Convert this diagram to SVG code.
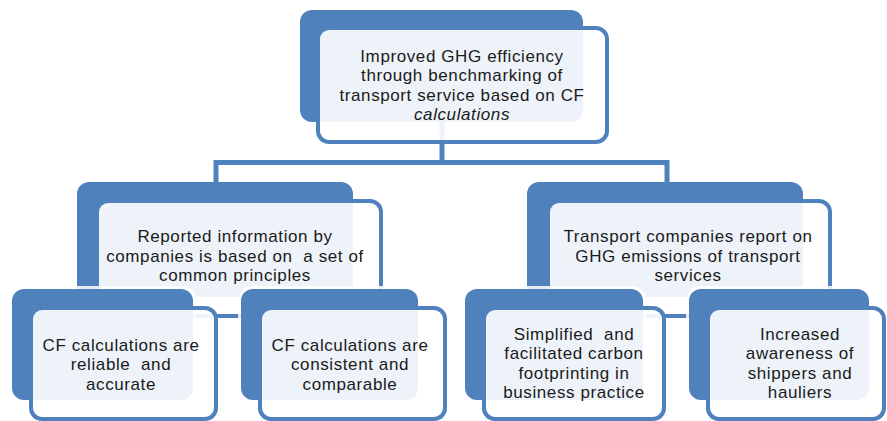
<svg xmlns="http://www.w3.org/2000/svg" width="887" height="421" viewBox="0 0 887 421">
<style>
.back{fill:#4f81bd}
.glow{fill:#ffffff;opacity:0.85}
.front{fill:#ffffff;fill-opacity:0.9;stroke:#4f81bd;stroke-width:4}
.conn{fill:none;stroke:#4f81bd;stroke-width:5}
text{font-family:"Liberation Sans",Arial,sans-serif;font-size:17px;letter-spacing:0.6px;fill:#1a1a1a;text-anchor:middle;white-space:pre}
</style>
<rect width="887" height="421" fill="#ffffff"/>
<g id="connectors">
<path class="conn" d="M442,122 V162.5"/>
<path class="conn" d="M216,182 V162.5 H667 V182"/>
</g>
<g id="top">
<rect class="back" x="300" y="10" width="283" height="112" rx="12"/>
<rect class="front" x="318" y="28" width="289" height="114" rx="11"/>
<text x="462" y="62">Improved GHG efficiency</text>
<text x="462" y="81.4">through benchmarking of</text>
<text x="462" y="100.8">transport service based on CF</text>
<text x="462" y="120.2" font-style="italic">calculations</text>
</g>
<g id="mid-left">
<rect class="back" x="77" y="182" width="276" height="115" rx="12"/>
<rect class="front" x="97" y="201" width="284" height="115" rx="11"/>
<text x="235" y="242">Reported information by</text>
<text x="235" y="261.5" xml:space="preserve">companies is based on  a set of</text>
<text x="235" y="281">common principles</text>
</g>
<g id="mid-right">
<rect class="back" x="527" y="182" width="276" height="115" rx="12"/>
<rect class="front" x="548" y="201" width="282" height="115" rx="11"/>
<text x="688" y="242">Transport companies report on</text>
<text x="688" y="261.5">GHG emissions of transport</text>
<text x="688" y="281">services</text>
</g>
<g id="bottom-1">
<rect class="glow" x="9" y="286" width="187" height="117" rx="14"/>
<rect class="back" x="12" y="289" width="181" height="111" rx="12"/>
<rect class="front" x="31" y="308" width="185" height="111" rx="11"/>
<text x="121" y="350.5">CF calculations are</text>
<text x="121" y="370" xml:space="preserve">reliable  and</text>
<text x="121" y="389.5">accurate</text>
</g>
<g id="bottom-2">
<rect class="glow" x="238" y="286" width="183" height="117" rx="14"/>
<rect class="back" x="241" y="289" width="177" height="111" rx="12"/>
<rect class="front" x="260" y="308" width="185" height="111" rx="11"/>
<text x="350" y="350.5">CF calculations are</text>
<text x="350" y="370">consistent and</text>
<text x="350" y="389.5">comparable</text>
</g>
<g id="bottom-3">
<rect class="glow" x="462" y="286" width="184" height="117" rx="14"/>
<rect class="back" x="465" y="289" width="178" height="111" rx="12"/>
<rect class="front" x="484" y="308" width="180" height="111" rx="11"/>
<text x="574" y="339.8" xml:space="preserve">Simplified  and</text>
<text x="574" y="359.3">facilitated carbon</text>
<text x="574" y="378.8">footprinting in</text>
<text x="574" y="398.3">business practice</text>
</g>
<g id="bottom-4">
<rect class="glow" x="686" y="286" width="186" height="117" rx="14"/>
<rect class="back" x="689" y="289" width="180" height="111" rx="12"/>
<rect class="front" x="708" y="308" width="176" height="111" rx="11"/>
<text x="800" y="339.8">Increased</text>
<text x="800" y="359.3">awareness of</text>
<text x="800" y="378.8">shippers and</text>
<text x="800" y="398.3">hauliers</text>
</g>
</svg>
